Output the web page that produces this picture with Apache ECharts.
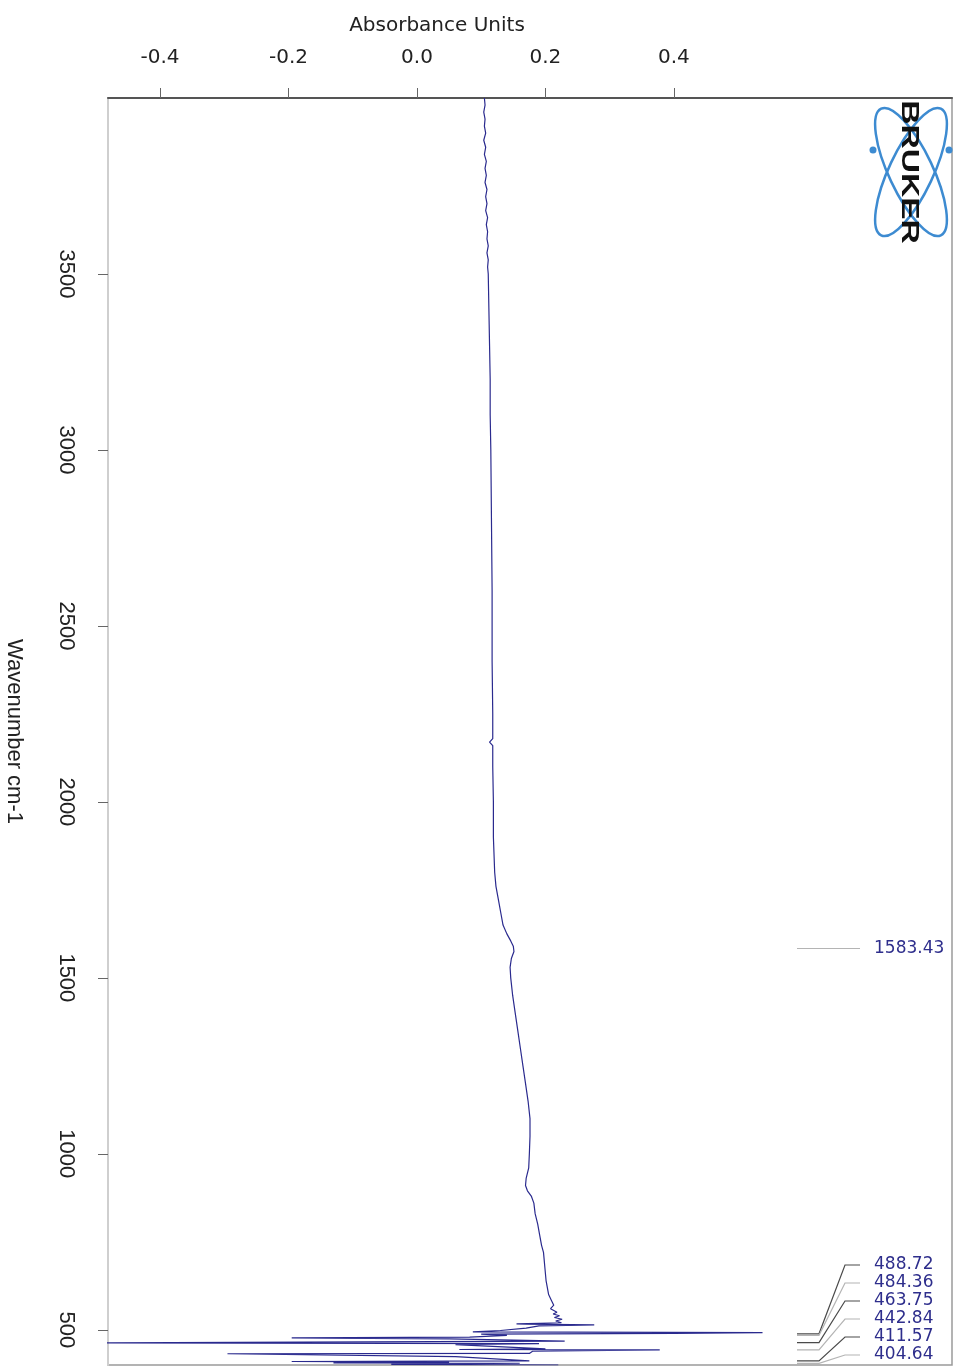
<!DOCTYPE html>
<html>
<head>
<meta charset="utf-8">
<title>Absorbance spectrum</title>
<script src="https://cdn.jsdelivr.net/npm/echarts@6.0.0/dist/echarts.min.js"></script>
<style>
  html, body { margin: 0; padding: 0; background: #fff; }
  #chart { width: 956px; height: 1368px; }
</style>
</head>
<body>
<div id="chart"></div>
<script>
// sampled points of the trace, high wavenumber to low (cm-1)
const wavenumbers = [
  4000, 3980, 3960, 3940, 3920, 3900, 3880, 3860, 3840, 3820, 3800, 3780, 3760, 3740, 3720, 3700,
  3680, 3660, 3640, 3620, 3600, 3580, 3560, 3540, 3520,
  3500, 3400, 3300, 3200, 3100, 3000, 2800, 2600, 2400, 2250, 2180, 2170, 2160, 2100, 2000, 1900,
  1800, 1760, 1720, 1680, 1650, 1625, 1605, 1590, 1575, 1555, 1530, 1500, 1450, 1400, 1350, 1300,
  1250, 1200, 1150, 1100, 1050, 1000, 960, 930, 910, 895, 880, 860, 830, 800, 770, 740, 720, 700,
  680, 660, 640, 620, 600, 585, 570, 560, 550, 545, 540, 535, 530, 525, 520,
  517, 516, 514, 511, 505, 498, 494, 492, 490, 488, 484, 479, 477, 474, 468, 463, 461, 458,
  446, 444, 443, 439, 433, 432, 424, 412, 410, 408, 406, 405, 402, 400
]
const absorbance = [
  0.105, 0.106, 0.104, 0.106, 0.105, 0.107, 0.104, 0.107, 0.105, 0.108, 0.106, 0.108, 0.106, 0.109, 0.107, 0.109,
  0.107, 0.110, 0.108, 0.110, 0.109, 0.111, 0.109, 0.111, 0.110,
  0.111, 0.112, 0.113, 0.114, 0.114, 0.115, 0.116, 0.117, 0.117, 0.118, 0.118, 0.113, 0.118, 0.118, 0.119, 0.119,
  0.121, 0.123, 0.127, 0.131, 0.134, 0.140, 0.146, 0.150, 0.151, 0.147, 0.145, 0.146, 0.149, 0.153, 0.157, 0.161,
  0.165, 0.169, 0.173, 0.176, 0.176, 0.175, 0.174, 0.170, 0.169, 0.172, 0.178, 0.182, 0.184, 0.188, 0.191, 0.194, 0.197, 0.198,
  0.199, 0.200, 0.201, 0.203, 0.205, 0.209, 0.213, 0.208, 0.218, 0.212, 0.222, 0.214, 0.226, 0.216, 0.225,
  0.155, 0.170, 0.276, 0.190, 0.170, 0.130, 0.087, 0.538, 0.400, 0.100, 0.140, 0.082, -0.195, 0.050, 0.230, -0.500, 0.190, 0.060,
  0.200, 0.066, 0.378, 0.180, 0.175, -0.295, 0.060, 0.175, -0.195, 0.050, -0.130, 0.160, -0.040, 0.220
]

// picked peaks (cm-1)
const peakWavenumbers = [1583.43, 488.72, 484.36, 463.75, 442.84, 411.57, 404.64]

const absorbanceTicks = [-0.4, -0.2, 0.0, 0.2, 0.4]
const wavenumberTicks = [500, 1000, 1500, 2000, 2500, 3000, 3500]

const chart = echarts.init(document.getElementById('chart'))

function renderPeak(params, api) {
  const cs = params.coordSys
  const right = cs.x + cs.width
  const bottom = cs.y + cs.height
  // label stacking: work upward from the bottom so labels do not overlap
  const ys = peakWavenumbers.map(w => api.coord([0, w])[1])
  const order = ys.map((y, i) => i).sort((a, b) => ys[b] - ys[a])
  const labelY = []
  let prev = Infinity
  order.forEach(i => {
    const ly = Math.min(ys[i], bottom - 10, prev - 18)
    labelY[i] = ly
    prev = ly
  })
  const i = params.dataIndex
  const py = ys[i]
  const ly = labelY[i]
  return {
    type: 'group',
    children: [
      {
        type: 'polyline',
        shape: { points: [[right - 155, py], [right - 133, py], [right - 107, ly], [right - 92, ly]] },
        style: { fill: null, stroke: i % 2 === 0 ? '#b4b4b4' : '#4a4a4a', lineWidth: 1.2 }
      },
      {
        type: 'text',
        x: right - 78,
        y: ly,
        style: {
          text: peakWavenumbers[i].toFixed(2),
          fill: '#2e2e8c',
          font: '17px "DejaVu Sans"',
          verticalAlign: 'middle',
          align: 'left'
        }
      }
    ]
  }
}

const option = {
  animation: false,
  backgroundColor: '#fff',
  title: {
    text: 'Absorbance Units',
    left: 432,
    top: 11,
    textAlign: 'center',
    textStyle: { fontFamily: 'DejaVu Sans', fontSize: 20, fontWeight: 'normal', color: '#222' }
  },
  grid: {
    left: 108, right: 4, top: 98, bottom: 3,
    outerBoundsMode: 'none',
    containLabel: false,
    show: true, borderColor: '#9a9a9a', borderWidth: 1.5
  },
  xAxis: {
    type: 'value',
    position: 'top',
    min: -0.481,
    max: 0.833,
    axisLine: { show: true, onZero: false, lineStyle: { color: '#555', width: 2 } },
    axisTick: { show: true, length: 10, customValues: absorbanceTicks, lineStyle: { color: '#666' } },
    axisLabel: {
      customValues: absorbanceTicks,
      margin: 30,
      color: '#222',
      fontFamily: 'DejaVu Sans',
      fontSize: 20,
      formatter: v => v.toFixed(1)
    },
    splitLine: { show: false }
  },
  yAxis: {
    type: 'value',
    position: 'left',
    min: 400,
    max: 4000,
    name: 'Wavenumber cm-1',
    nameLocation: 'middle',
    nameRotate: -90,
    nameGap: 83,
    nameTextStyle: { fontFamily: 'Liberation Sans', fontSize: 22, color: '#222' },
    axisLine: { show: true, onZero: false, lineStyle: { color: '#cfcfcf', width: 2 } },
    axisTick: { show: true, length: 10, customValues: wavenumberTicks, lineStyle: { color: '#666' } },
    axisLabel: {
      customValues: wavenumberTicks,
      rotate: -90,
      margin: 31,
      color: '#222',
      fontFamily: 'Liberation Sans',
      fontSize: 22,
      formatter: v => String(v)
    },
    splitLine: { show: false }
  },
  graphic: [
    {
      type: 'ellipse', x: 911, y: 172, rotation: 0.44,
      shape: { cx: 0, cy: 0, rx: 22, ry: 70 },
      style: { fill: null, stroke: '#3d8bd1', lineWidth: 2.5 }
    },
    {
      type: 'ellipse', x: 911, y: 172, rotation: -0.44,
      shape: { cx: 0, cy: 0, rx: 22, ry: 70 },
      style: { fill: null, stroke: '#3d8bd1', lineWidth: 2.5 }
    },
    { type: 'circle', shape: { cx: 873, cy: 150, r: 3.5 }, style: { fill: '#3d8bd1' } },
    { type: 'circle', shape: { cx: 949, cy: 150, r: 3.5 }, style: { fill: '#3d8bd1' } },
    {
      type: 'text', x: 909, y: 172, rotation: -Math.PI / 2, scaleX: 1.4,
      style: {
        text: 'BRUKER', fill: '#111', font: 'bold 24px "Liberation Sans"',
        align: 'center', verticalAlign: 'middle'
      }
    }
  ],
  series: [
    {
      name: 'Absorbance',
      type: 'line',
      data: wavenumbers.map((w, i) => [absorbance[i], w]),
      showSymbol: false,
      clip: true,
      lineStyle: { color: '#2a2a8e', width: 1.2 }
    },
    {
      name: 'Peaks',
      type: 'custom',
      data: peakWavenumbers.map(w => [0, w]),
      encode: { x: 0, y: 1 },
      renderItem: renderPeak,
      clip: false,
      z: 3
    }
  ]
}

chart.setOption(option)
</script>
</body>
</html>
